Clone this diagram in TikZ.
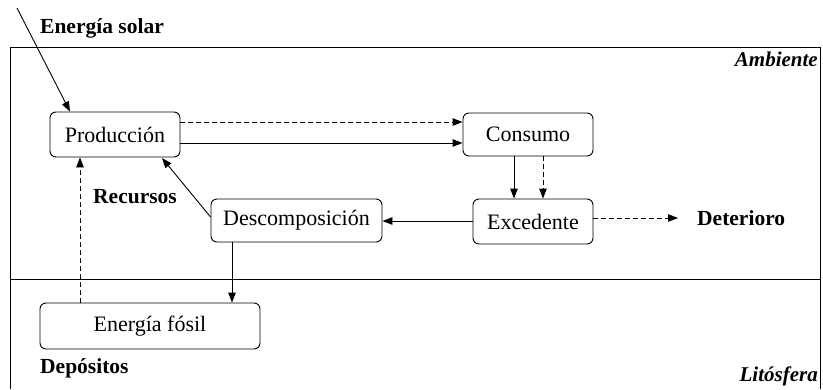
\documentclass[tikz,border=0pt]{standalone}
\usepackage{fontspec}
\setmainfont{Liberation Serif}
\usetikzlibrary{arrows.meta}
\begin{document}
\begin{tikzpicture}[x=1pt,y=-1pt,
  box/.style={draw, rounded corners=6pt, line width=0.9pt, inner sep=0pt,
    font=\fontsize{22}{24}\selectfont},
  lbl/.style={font=\bfseries\fontsize{21.5}{24}\selectfont, inner sep=0pt},
  zone/.style={font=\bfseries\itshape\fontsize{21}{24}\selectfont, inner sep=0pt},
  flow/.style={line width=0.9pt, -{Triangle[length=10pt,width=7.5pt]}},
  dflow/.style={flow, dash pattern=on 5pt off 3pt},
  frame/.style={line width=0.9pt}]
\useasboundingbox (0,0) rectangle (823,389);

% environment frame and lithosphere divider
\draw[frame] (10,389) -- (10,47) -- (820,47) -- (820,389);
\draw[frame] (10,279) -- (820,279);

% boxes
\node[box, minimum width=130pt, minimum height=45pt] (prod) at (115,134.5) {Producción};
\node[box, minimum width=130pt, minimum height=43pt] (cons) at (528,134.5) {Consumo};
\node[box, minimum width=120pt, minimum height=45pt] (exce) at (533,221.5) {Excedente};
\node[box, minimum width=171pt, minimum height=43pt] (desc) at (296.5,220.5) {Descomposición};
\node[box, minimum width=220pt, minimum height=46pt] (fosil) at (150,326) {Energía fósil};

% labels
\node[lbl, anchor=west] (solar) at (40,28) {Energía solar};
\node[lbl, anchor=west] (recursos) at (93,197) {Recursos};
\node[lbl, anchor=west] (deter) at (697,218) {Deterioro};
\node[lbl, anchor=west] (depos) at (40,368) {Depósitos};
\node[zone, anchor=east] (amb) at (818,59) {Ambiente};
\node[zone, anchor=east] (lito) at (818,376) {Litósfera};

% sun input
\coordinate (sun) at (17,8);
\draw[flow] (sun) -- (prod.north west -| 70,112);

% production to consumption
\draw[dflow] (prod.east |- 0,122) -- (cons.west |- 0,122);
\draw[flow] (prod.east |- 0,143) -- (cons.west |- 0,143);

% consumption to surplus
\draw[flow] (cons.south -| 514,0) -- (exce.north -| 514,0);
\draw[dflow] (cons.south -| 543,0) -- (exce.north -| 543,0);

% surplus outputs
\draw[flow] (exce.west |- 0,221) -- (desc.east |- 0,221);
\coordinate (deterend) at (678,218);
\draw[dflow] (exce.east |- 0,218) -- (deterend);

% decomposition back to production
\draw[flow] (desc.west |- 0,217) -- (162,158);

% decomposition to fossil deposits, fossil back to production
\draw[flow] (desc.south -| 232,0) -- (fosil.north -| 232,0);
\draw[dflow] (fosil.north -| 80,0) -- (prod.south -| 80,0);
\end{tikzpicture}
\end{document}
